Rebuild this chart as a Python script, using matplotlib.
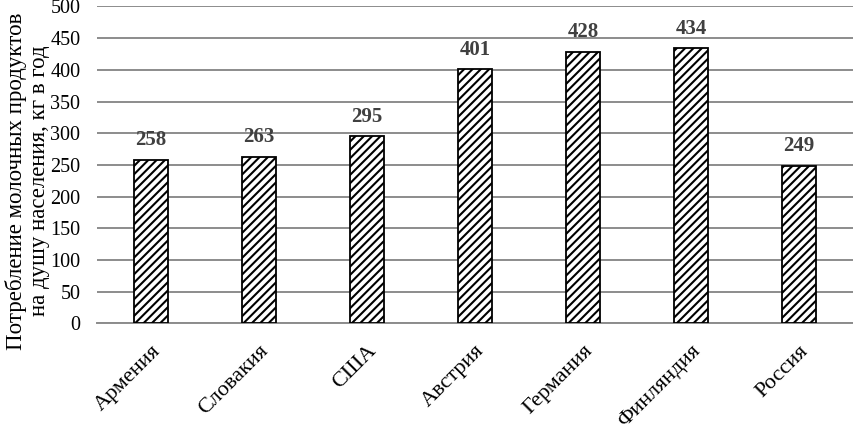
import matplotlib
matplotlib.use("Agg")
import numpy as np
from matplotlib import pyplot as plt

# данные с картинки
countries = ['Армения', 'Словакия', 'США', 'Австрия', 'Германия', 'Финляндия', 'Россия']
consumption = [258, 263, 295, 401, 428, 434, 249]
y_ticks = [0, 50, 100, 150, 200, 250, 300, 350, 400, 450, 500]
y_label = 'Потребление молочных продуктов\nна душу населения, кг в год'

plt.rcParams['font.family'] = ['Liberation Serif', 'DejaVu Serif']
plt.rcParams['hatch.linewidth'] = 1.5

fig = plt.figure(figsize=(8.54, 4.32), dpi=100)
ax = fig.add_axes([0.1136, 0.2512, 0.8852, 0.7338])

x = np.arange(len(countries))
bars = ax.bar(x, consumption, width=0.31, color='white', edgecolor='black',
              linewidth=1.3, hatch='////', zorder=3)

for xi, v in zip(x, consumption):
    ax.annotate(str(v), (xi, v), xytext=(0, 7), textcoords='offset points',
                ha='center', va='bottom', fontsize=15, fontweight='bold',
                color='#404040')

ax.set_xlim(-0.5, len(countries) - 0.5)
ax.set_ylim(0, 500)
ax.set_yticks(y_ticks)
ax.set_xticks(x)
ax.set_xticklabels(countries, rotation=45, ha='right', rotation_mode='anchor',
                   fontsize=16)
ax.tick_params(axis='y', labelsize=14.5, length=0, pad=12)
ax.tick_params(axis='x', length=0, pad=13)
ax.yaxis.grid(True, color='#8c8c8c', linewidth=1.4, zorder=0)
ax.set_axisbelow(True)
for s in ['top', 'right', 'left']:
    ax.spines[s].set_visible(False)
ax.spines['bottom'].set_color('#8c8c8c')
ax.spines['bottom'].set_linewidth(1.4)

ax.set_ylabel(y_label, fontsize=16.5, linespacing=1.15)
ax.yaxis.set_label_coords(-0.062, 0.45)

fig.savefig('out.png', dpi=100)
